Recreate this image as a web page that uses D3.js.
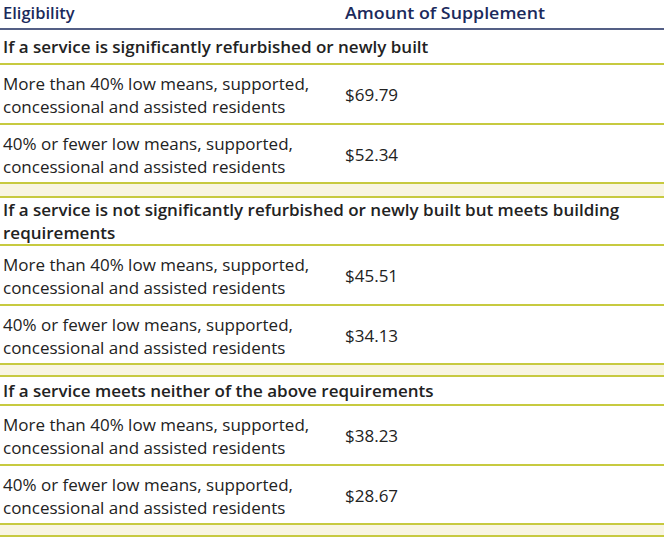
<!DOCTYPE html>
<html><head><meta charset="utf-8">
<script src="https://cdn.jsdelivr.net/npm/d3@7"></script>
<style>body{margin:0;background:#fff}</style></head>
<body><svg id="c" width="668" height="541"></svg>
<script>
const headers = ["Eligibility", "Amount of Supplement"];
const sections = [
  ["If a service is significantly refurbished or newly built"],
  ["If a service is not significantly refurbished or newly built but meets building", "requirements"],
  ["If a service meets neither of the above requirements"]
];
const eligibility = [
  ["More than 40% low means, supported,", "concessional and assisted residents"],
  ["40% or fewer low means, supported,", "concessional and assisted residents"]
];
const amounts = [[69.79, 52.34], [45.51, 34.13], [38.23, 28.67]];

const svg = d3.select("#c");
const font = "'Open Sans', 'Noto Sans', sans-serif";
const W = 664, x0 = 3, xv = 345;
const fmt = v => "$" + d3.format(".2f")(v);
const olive = "#b5b800", navy = "#1b2a5c", txt = "#222";
const secH = [35, 48, 29], spH = [14, 12, 12], rowH = [60, 59];

function t(x, y, s, size, w, fill, len) {
  const e = svg.append("text").attr("x", x).attr("y", y).text(s)
    .attr("font-family", font).attr("font-size", size).attr("font-weight", w).attr("fill", fill);
  if (len) e.attr("textLength", len).attr("lengthAdjust", "spacingAndGlyphs");
  return e;
}
t(x0, 19, headers[0], 16.5, 600, navy);
t(xv, 19, headers[1], 16.5, 600, navy, 200);
svg.append("line").attr("x1", 0).attr("x2", W).attr("y1", 29).attr("y2", 29).attr("stroke", navy).attr("stroke-width", 1.5);

let y = 29;
const line = yy => svg.append("line").attr("x1", 0).attr("x2", W).attr("y1", yy).attr("y2", yy).attr("stroke", olive).attr("stroke-width", 1.5);
sections.forEach((sec, si) => {
  const h = secH[si];
  sec.forEach((s, i) => {
    const by = y + h / 2 + 6 + (sec.length === 2 ? (i === 0 ? -11.5 : 11.5) : 0);
    t(x0, by, s, 17, 600, txt);
  });
  y += h; line(y);
  eligibility.forEach((el, ri) => {
    el.forEach((s, i) => t(x0, y + 26 + i * 23, s, 17, 400, txt));
    t(xv, y + 37, fmt(amounts[si][ri]), 17, 400, txt);
    y += rowH[ri]; line(y);
  });
  svg.append("rect").attr("x", 0).attr("y", y + 1).attr("width", W).attr("height", spH[si] - 2).attr("fill", "#f8f5e2");
  y += spH[si]; line(y);
});
</script></body></html>
